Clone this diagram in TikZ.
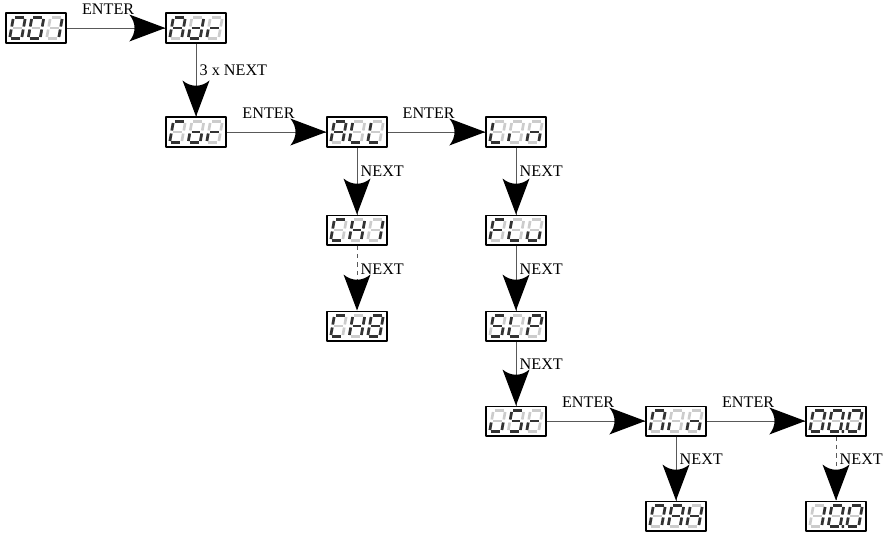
\documentclass[tikz,border=0pt]{standalone}
\usepackage{fontspec}
\setmainfont{Liberation Serif}
\usetikzlibrary{decorations.markings}

% Một chữ số 7 đoạn: #1 tên ô, #2 độ lệch ngang, #3 các đoạn sáng
\newcommand\chuso[3]{%
  \begin{scope}[shift={(#1.center)}, shift={(#2,0)}, xslant=0.18]
    \foreach \s in {a,b,c,d,e,f,g} \path[tat, seg \s];
    \foreach \s in {#3} \path[sang, seg \s];
  \end{scope}}
% Một màn hình 3 chữ số
\newcommand\manhinh[4]{\chuso{#1}{-18.5}{#2}\chuso{#1}{0}{#3}\chuso{#1}{18.5}{#4}}

\begin{document}
\begin{tikzpicture}[x=0.025cm, y=-0.025cm, font=\fontsize{11.5}{13}\selectfont, line join=round,
  hop/.style={draw, line width=1pt, minimum width=1.5cm, minimum height=0.74cm, inner sep=0pt},
  noi/.style={draw=black!65, line width=0.6pt, postaction=decorate,
    decoration={markings, mark=at position 1 with {\fill[black] (0,0) -- (-36,-13.5) .. controls (-29,-5) and (-29,5) .. (-36,13.5) -- cycle;}}},
  sang/.style={draw=black!80, line width=1.9pt},
  tat/.style={draw=black!20, line width=1.9pt},
  seg a/.style={insert path={(-4.4,-10.5) -- (4.4,-10.5)}},
  seg b/.style={insert path={(6,-9) -- (6,-1.5)}},
  seg c/.style={insert path={(6,1.5) -- (6,9)}},
  seg d/.style={insert path={(-4.4,10.5) -- (4.4,10.5)}},
  seg e/.style={insert path={(-6,1.5) -- (-6,9)}},
  seg f/.style={insert path={(-6,-9) -- (-6,-1.5)}},
  seg g/.style={insert path={(-4.4,0) -- (4.4,0)}},
  seg p/.style={insert path={(8.8,10.5) circle (0.3)}}]
\useasboundingbox (0,0) rectangle (889,535);
% Các ô hiển thị
\node[hop] (so) at (36,28) {};
\node[hop] (adr) at (196,28) {};
\node[hop] (cor) at (196,132) {};
\node[hop] (all) at (357,132) {};
\node[hop] (lin) at (516,132) {};
\node[hop] (ch1) at (357,230) {};
\node[hop] (ch8) at (357,326) {};
\node[hop] (flu) at (516,230) {};
\node[hop] (slp) at (516,326) {};
\node[hop] (usr) at (516,421) {};
\node[hop] (min) at (676,421) {};
\node[hop] (mah) at (676,516) {};
\node[hop] (giatri) at (836,421) {};
\node[hop] (giatri2) at (836,516) {};
% Các chữ số
\manhinh{so}{a,b,c,d,e,f}{a,b,c,d,e,f}{b,c}
\manhinh{adr}{a,b,c,e,f,g}{b,c,d,e,g}{e,g}
\manhinh{cor}{a,d,e,f}{c,d,e,g}{e,g}
\manhinh{all}{a,b,c,e,f,g}{d,e,f}{d,e,f}
\manhinh{lin}{d,e,f}{e}{c,e,g}
\manhinh{ch1}{a,d,e,f}{b,c,e,f,g}{b,c}
\manhinh{ch8}{a,d,e,f}{b,c,e,f,g}{a,b,c,d,e,f,g}
\manhinh{flu}{a,e,f,g}{d,e,f}{c,d,e}
\manhinh{slp}{a,c,d,f,g}{d,e,f}{a,b,e,f,g}
\manhinh{usr}{c,d,e}{a,c,d,f,g}{e,g}
\manhinh{min}{a,b,c,e,f}{e}{c,e,g}
\manhinh{mah}{a,b,c,e,f}{a,b,c,e,f,g}{b,c,e,f,g}
\manhinh{giatri}{a,b,c,d,e,f}{a,b,c,d,e,f,p}{a,b,c,d,e,f}
\manhinh{giatri2}{b,c}{a,b,c,d,e,f,p}{a,b,c,d,e,f}
% Mũi tên ENTER
\draw[noi] (so) -- node[pos=0.42, above=6pt] {ENTER} (adr);
\draw[noi] (cor) -- node[pos=0.42, above=6pt] {ENTER} (all);
\draw[noi] (all) -- node[pos=0.42, above=6pt] {ENTER} (lin);
\draw[noi] (usr) -- node[pos=0.42, above=6pt] {ENTER} (min);
\draw[noi] (min) -- node[pos=0.42, above=6pt] {ENTER} (giatri);
% Mũi tên NEXT
\draw[noi] (adr) -- node[pos=0.36, right=-1pt] {3 x NEXT} (cor);
\draw[noi] (all) -- node[pos=0.36, right=-1pt] {NEXT} (ch1);
\draw[noi, dashed] (ch1) -- node[pos=0.36, right=-1pt] {NEXT} (ch8);
\draw[noi] (lin) -- node[pos=0.36, right=-1pt] {NEXT} (flu);
\draw[noi] (flu) -- node[pos=0.36, right=-1pt] {NEXT} (slp);
\draw[noi] (slp) -- node[pos=0.36, right=-1pt] {NEXT} (usr);
\draw[noi] (min) -- node[pos=0.36, right=-1pt] {NEXT} (mah);
\draw[noi, dashed] (giatri) -- node[pos=0.36, right=-1pt] {NEXT} (giatri2);
\end{tikzpicture}
\end{document}
